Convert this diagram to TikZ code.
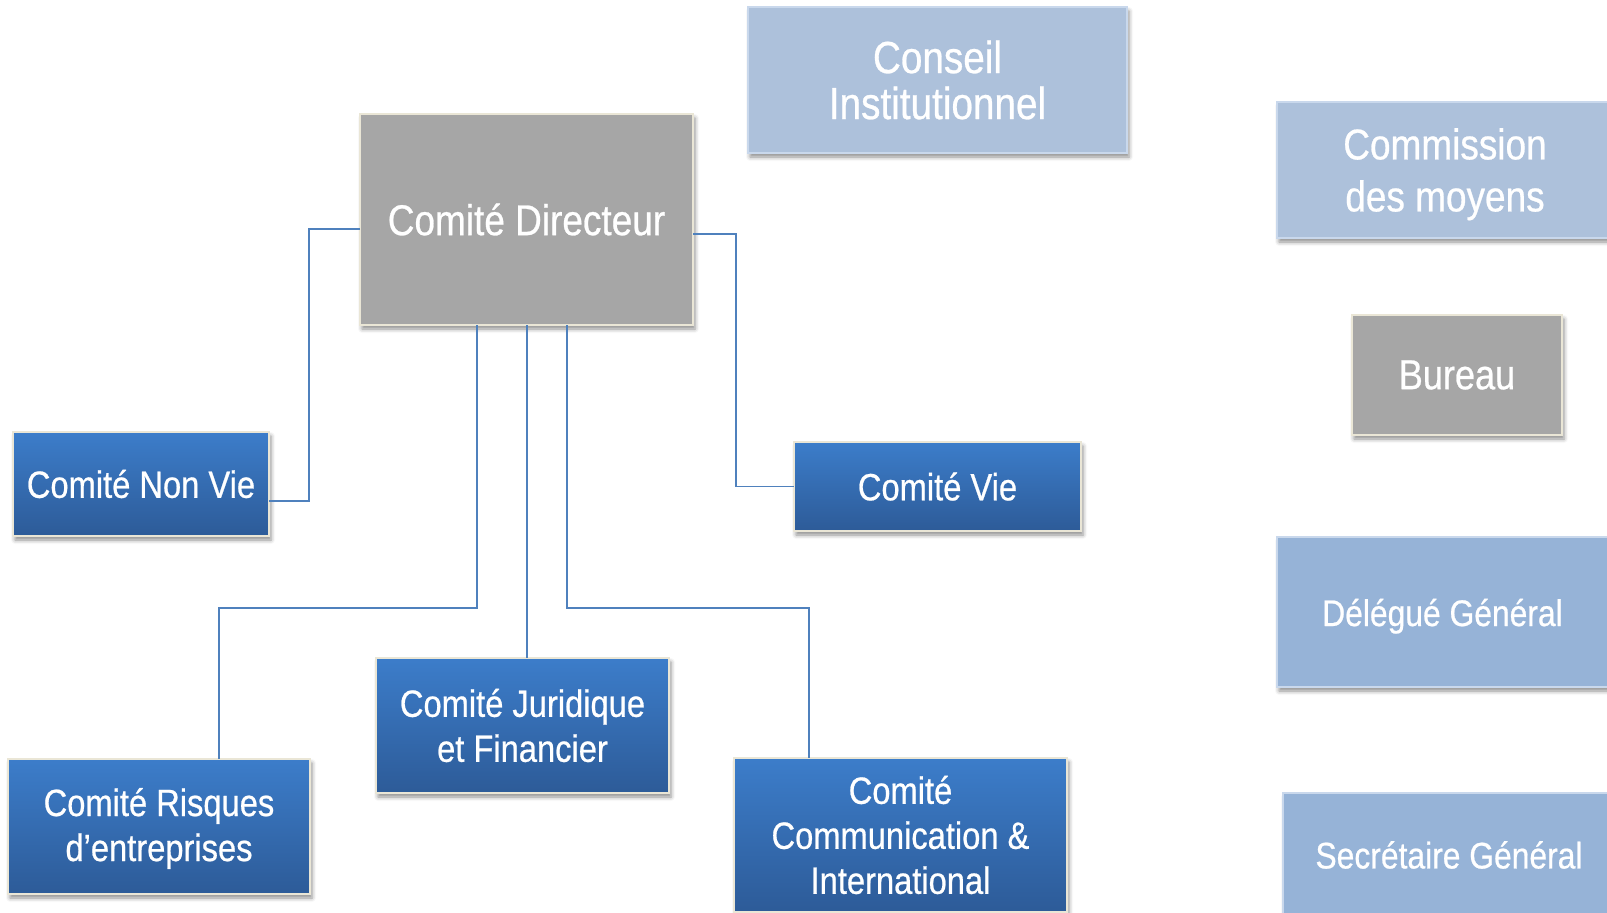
\documentclass[tikz,border=0pt]{standalone}
\usepackage{fontspec}
\setmainfont{Liberation Sans}[FakeStretch=0.86, FakeBold=0.6]
\usetikzlibrary{shadows.blur}
\definecolor{bluetop}{HTML}{3C7DCA}
\definecolor{bluebot}{HTML}{2D5B98}
\definecolor{boxborder}{HTML}{EAE6D6}
\definecolor{greyfill}{HTML}{A6A6A6}
\definecolor{paleA}{HTML}{ADC1DB}
\definecolor{paleB}{HTML}{96B3D7}
\definecolor{paleborder}{HTML}{C9D8EC}
\definecolor{linkblue}{HTML}{4F81BD}
\newcommand{\shiftdownby}[2]{\raisebox{-#1}[\height][\depth]{\begin{tabular}{@{}c@{}}#2\end{tabular}}}
\tikzset{
  base/.style={rectangle, inner sep=0pt, outer sep=0pt, text=white, align=center,
    blur shadow={shadow xshift=2pt, shadow yshift=-4pt, shadow blur radius=4pt, shadow opacity=45}},
  bluebox/.style={base, draw=boxborder, line width=2pt, top color=bluetop, bottom color=bluebot,
    font=\fontsize{38}{45}\selectfont},
  greybox/.style={base, draw=boxborder, line width=2pt, fill=greyfill},
  palebox/.style={base, draw=paleborder, line width=1.5pt},
  conn/.style={draw=linkblue, line width=1.8pt}
}
\begin{document}
\begin{tikzpicture}[x=1pt, y=-1pt]
\useasboundingbox (0,0) rectangle (1607,913);
% committees
\node[greybox, minimum width=333, minimum height=211, font=\fontsize{43}{48}\selectfont] (D) at (526.5,219.5) {Comité Directeur};
\node[bluebox, minimum width=256, minimum height=104] (NV) at (141,484) {Comité Non Vie};
\node[bluebox, minimum width=287, minimum height=89] (V) at (937.5,486.5) {Comité Vie};
\node[bluebox, minimum width=302, minimum height=135] (R) at (159,826.5) {\shiftdownby{3pt}{Comité Risques\\d’entreprises}};
\node[bluebox, minimum width=293, minimum height=135] (J) at (522.5,725.5) {Comité Juridique\\et Financier};
\node[bluebox, minimum width=333, minimum height=154] (C) at (900.5,835) {Comité\\Communication \&\\International};
% right side
\node[palebox, fill=paleA, minimum width=379, minimum height=146, font=\fontsize{45}{46}\selectfont] (CI) at (937.5,80) {Conseil\\Institutionnel};
\node[palebox, fill=paleA, minimum width=336, minimum height=136, font=\fontsize{43}{52}\selectfont] (CM) at (1445,170) {\shiftdownby{5pt}{Commission\\des moyens}};
\node[greybox, minimum width=210, minimum height=120, font=\fontsize{42}{45}\selectfont] (B) at (1457,375) {Bureau};
\node[palebox, fill=paleB, minimum width=331, minimum height=150, font=\fontsize{37}{45}\selectfont] (DG) at (1442.5,612) {\shiftdownby{5pt}{Délégué Général}};
\node[palebox, fill=paleB, minimum width=332, minimum height=124, font=\fontsize{37}{45}\selectfont] (SG) at (1449,855) {Secrétaire Général};
% connectors
\draw[conn] (D.west |- 0,229) -- (309,229) |- (NV.east |- 0,501);
\draw[conn] (D.east |- 0,234) -- (736,234) |- (V.west);
\draw[conn] (D.south -| 477,0) -- (477,608) -| (R.north -| 219,0);
\draw[conn] (D.south -| 527,0) -- (J.north -| 527,0);
\draw[conn] (D.south -| 567,0) -- (567,608) -| (C.north -| 809,0);
\end{tikzpicture}
\end{document}
